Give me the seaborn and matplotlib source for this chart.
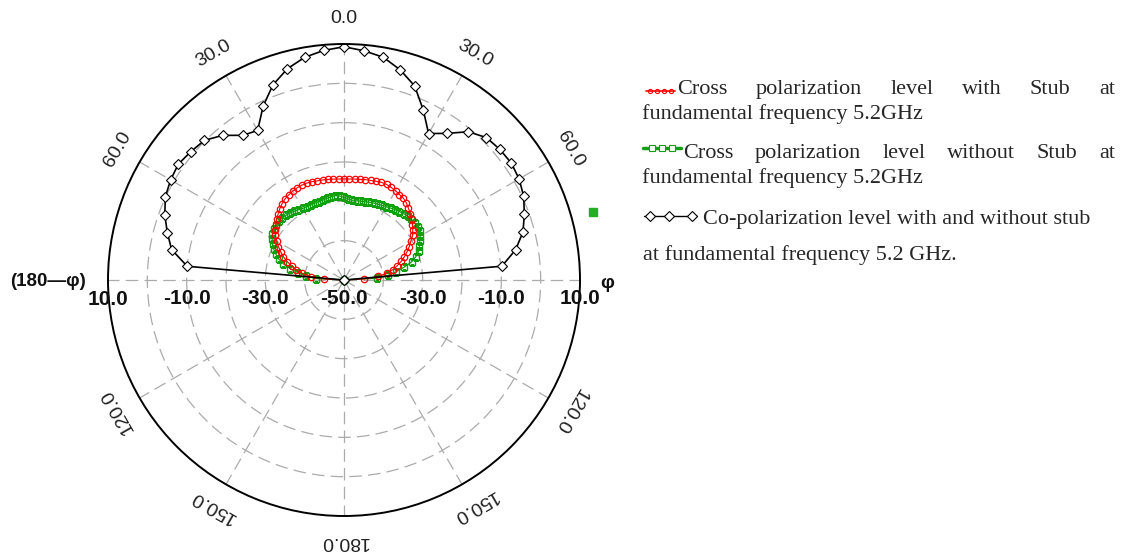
import numpy as np
import pandas as pd
import matplotlib
matplotlib.use("Agg")
import matplotlib.pyplot as plt
import seaborn as sns

# ---------------- data (dB vs angle, degrees; negative = left half) ----------------
co_angles = np.arange(-90, 91, 5)
co_level = [-50.0, -10.0, -5.5, -3.5, -1.5, 0.1, 0.9, 1.4, 0.8, 0.2, -2.0, -5.1, -6.1,
            -1.3, 2.8, 5.6, 7.5, 8.6, 9.3, 8.5, 7.5, 5.3, 2.5, -2.3, -7.0, -4.5, -0.8,
            1.2, 1.7, 1.9, 1.4, 0.4, -1.2, -2.9, -5.7, -9.7, -50.0]

x_angles = np.arange(-90, 91, 3)
x_stub_level = [-50.0, -45.0, -41.5, -39.2, -37.5, -36.2, -34.8, -33.5, -32.4, -31.3,
                -30.3, -29.2, -28.4, -27.7, -27.0, -26.3, -25.6, -25.0, -24.5, -24.2,
                -23.9, -23.7, -23.6, -23.6, -23.7, -23.9, -24.0, -24.1, -24.2, -24.3,
                -24.3,
                -24.3, -24.2, -24.1, -23.9, -23.8, -23.6, -23.4, -23.4, -23.6, -23.8,
                -24.1, -24.3, -24.8, -25.5, -26.2, -26.9, -27.6, -28.4, -29.2, -30.4,
                -31.4, -32.5, -33.6, -34.7, -36.0, -37.3, -38.9, -41.2, -44.8, -50.0]
x_nostub_level = [-50.0, -42.8, -40.3, -38.2, -36.0, -34.0, -32.5, -31.4, -30.4, -29.6,
                  -28.9, -28.3, -27.9, -27.7, -27.6, -27.7, -27.9, -28.1, -28.4, -28.7,
                  -29.0, -29.1, -29.1, -29.1, -29.1, -29.0, -28.8, -28.6, -28.4, -28.6,
                  -29.0,
                  -29.4, -29.6, -29.6, -29.5, -29.4, -29.2, -29.0, -28.9, -28.7, -28.5,
                  -28.2, -27.9, -27.6, -27.3, -27.1, -27.0, -26.9, -26.9, -27.1, -27.6,
                  -28.4, -29.0, -29.7, -30.8, -32.2, -34.4, -36.6, -38.8, -41.7, -50.0]

r_min, r_max = -50, 10
ring_levels = [-40, -30, -20, -10, 0]
radial_labels = {-50: "-50.0", -30: "-30.0", -10: "-10.0", 10: "10.0"}
angle_ticks = [0, 30, 60, 120, 150, 180, 210, 240, 300, 330]

legend_items = [
    ("Cross polarization level with Stub at", "fundamental frequency 5.2GHz"),
    ("Cross polarization level without Stub at", "fundamental frequency 5.2GHz"),
]
legend_line3 = "Co-polarization level with and without stub"
legend_line4 = "at fundamental frequency 5.2 GHz."

# ---------------- figure ----------------
sns.set_style("white")
plt.rcParams["font.family"] = ["Liberation Sans", "DejaVu Sans"]

W, H = 1123, 556
fig = plt.figure(figsize=(W / 100, H / 100), dpi=100)
fig.patch.set_facecolor("white")

cx, cy, R = 344, 280, 236
ax = fig.add_axes([(cx - R) / W, (H - cy - R) / H, 2 * R / W, 2 * R / H], projection="polar")
ax.set_theta_zero_location("N")
ax.set_theta_direction(-1)
ax.set_ylim(r_min, r_max)
ax.set_thetagrids(np.arange(0, 360, 30), labels=[""] * 12)
ax.set_rgrids(ring_levels, labels=[""] * len(ring_levels))
ax.grid(True, color="#ababab", linestyle=(0, (10, 5)), linewidth=0.9)
ax.spines["polar"].set_color("black")
ax.spines["polar"].set_linewidth(1.4)
ax.tick_params(length=0)

df_g = pd.DataFrame({"theta": np.deg2rad(x_angles), "level": x_nostub_level})
df_r = pd.DataFrame({"theta": np.deg2rad(x_angles), "level": x_stub_level})
df_c = pd.DataFrame({"theta": np.deg2rad(co_angles), "level": co_level})

sns.lineplot(data=df_g, x="theta", y="level", ax=ax, sort=False, estimator=None,
             color="#10a010", linewidth=0.9, marker="s", markersize=5,
             markerfacecolor="none", markeredgecolor="#10a010", markeredgewidth=1.0)
sns.lineplot(data=df_r, x="theta", y="level", ax=ax, sort=False, estimator=None,
             color="red", linewidth=0.8, marker="o", markersize=4.6,
             markerfacecolor="none", markeredgecolor="red", markeredgewidth=0.9)
sns.lineplot(data=df_c, x="theta", y="level", ax=ax, sort=False, estimator=None,
             color="black", linewidth=1.2, marker="D", markersize=5,
             markerfacecolor="white", markeredgecolor="black", markeredgewidth=0.8)
ax.set_xlabel("")
ax.set_ylabel("")
ax.set_ylim(r_min, r_max)

# angular labels (tangential)
r_lab = r_min + (r_max - r_min) * 1.108
for d in angle_ticks:
    txt = f"{(d if d <= 180 else 360 - d):.1f}"
    ax.text(np.deg2rad(d), r_lab, txt, rotation=-d if d <= 180 else 360 - d,
            rotation_mode="anchor", ha="center", va="center", fontsize=14,
            color="#222222")

# radial labels along horizontal diameter
for lvl, txt in radial_labels.items():
    sides = [90] if lvl == r_min else [90, 270]
    for s in sides:
        ax.annotate(txt, xy=(np.deg2rad(s), lvl), xytext=(0, -19),
                    textcoords="offset pixels", ha="center", va="center",
                    fontsize=15, fontweight="bold", color="#111111",
                    annotation_clip=False)

# ---------------- overlay for legend / side labels ----------------
ov = fig.add_axes([0, 0, 1, 1])
ov.set_xlim(0, W)
ov.set_ylim(H, 0)
ov.axis("off")
ov.patch.set_alpha(0)

ov.text(48, 281, "(180\u2014\u03c6)", ha="center", va="center", fontsize=13.5,
        fontweight="bold", color="#111111")
ov.text(607, 284, "\u03c6", ha="center", va="center", fontsize=14,
        fontweight="bold", color="#111111")

# stray marker seen right of the circle
ov.plot([593], [212], marker="s", markersize=5.5, color="#20b020", linestyle="none")

serif = ["Liberation Serif", "DejaVu Serif"]
fs = 16
fig.canvas.draw()
renderer = fig.canvas.get_renderer()


def justified(words_line, x0, x1, y):
    words = words_line.split()
    texts = [ov.text(0, y, w, fontsize=fs, family=serif, va="baseline", ha="left")
             for w in words]
    widths = [t.get_window_extent(renderer).width for t in texts]
    gap = (x1 - x0 - sum(widths)) / (len(words) - 1)
    x = x0
    for t, w in zip(texts, widths):
        t.set_x(x)
        x += w + gap


x_right = 1115
justified(legend_items[0][0], 677, x_right, 94)
ov.text(642, 119, legend_items[0][1], fontsize=fs, family=serif, va="baseline", ha="left")
justified(legend_items[1][0], 683, x_right, 158)
ov.text(642, 183, legend_items[1][1], fontsize=fs, family=serif, va="baseline", ha="left")
ov.text(703, 224, legend_line3, fontsize=fs, family=serif, va="baseline", ha="left")
ov.text(643, 260, legend_line4, fontsize=fs, family=serif, va="baseline", ha="left")

# legend glyphs
ov.plot([646, 675], [91, 91], color="red", linewidth=1.2)
ov.plot([650, 657, 664, 671], [91] * 4, color="red", marker="o", markersize=3,
        markerfacecolor="none", linestyle="none", markeredgewidth=0.8)
ov.plot([643, 681], [148, 148], color="#10a010", linewidth=2.5)
ov.plot([652, 662, 672], [148] * 3, color="#10a010", marker="s", markersize=4,
        markerfacecolor="white", linestyle="none", markeredgewidth=0.8)
ov.plot([644, 697], [216, 216], color="black", linewidth=1.0)
ov.plot([650, 669, 692], [216] * 3, color="black", marker="D", markersize=5,
        markerfacecolor="white", linestyle="none", markeredgewidth=0.8)

fig.savefig("out.png", dpi=100, facecolor="white")
